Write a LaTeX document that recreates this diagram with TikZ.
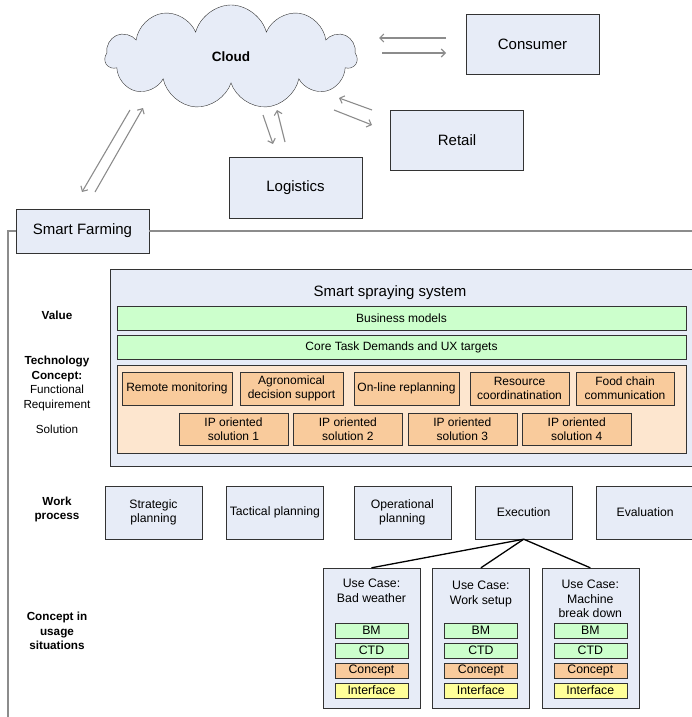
\documentclass[tikz,border=0pt]{standalone}
\usepackage{fontspec}
\setmainfont{Liberation Sans}
\usetikzlibrary{positioning,shapes.symbols,arrows.meta}

\definecolor{boxblue}{HTML}{E7ECF7}
\definecolor{boxline}{HTML}{333333}
\definecolor{valuegreen}{HTML}{CCFFCC}
\definecolor{panelpeach}{HTML}{FDE6CF}
\definecolor{funcorange}{HTML}{F9CB9C}
\definecolor{ifyellow}{HTML}{FFFF99}
\definecolor{flowgray}{HTML}{8C8C8C}

\tikzset{
	farmpicture/.style = {
		x = 1pt,
		y = 1pt,
		node distance = 5pt,
		flow/.style = {
			draw = flowgray,
			line width = 1.1pt,
			-{Straight Barb[length=4pt,width=8pt]},
		}
	},
	bigbox/.style = {
		draw = boxline,
		fill = boxblue,
		inner sep = 0pt,
		minimum width = 133pt,
		minimum height = 60pt,
		font = \fontsize{15}{17}\selectfont
	},
	greenbar/.style = {
		draw = boxline,
		fill = valuegreen,
		inner sep = 0pt,
		minimum width = 569pt,
		minimum height = 24pt,
		font = \fontsize{12}{14}\selectfont
	},
	funcbox/.style = {
		draw = boxline,
		fill = funcorange,
		inner sep = 0pt,
		align = center,
		minimum height = 33pt,
		font = \fontsize{12}{14}\selectfont
	},
	wpbox/.style = {
		draw = boxline,
		fill = boxblue,
		inner sep = 0pt,
		align = center,
		minimum width = 97pt,
		minimum height = 53pt,
		font = \fontsize{12.2}{14.5}\selectfont
	},
	ucbox/.style = {
		draw = boxline,
		fill = boxblue,
		minimum width = 97pt,
		minimum height = 140pt
	},
	uctitle/.style = {
		align = center,
		inner sep = 0pt,
		font = \fontsize{12.3}{14.5}\selectfont
	},
	smallbox/.style = {
		draw = boxline,
		inner sep = 0pt,
		minimum width = 73pt,
		minimum height = 15pt,
		font = \fontsize{12.3}{14}\selectfont
	},
	rowlabel/.style = {
		align = center,
		inner sep = 0pt,
		font = \bfseries\fontsize{11.7}{14.5}\selectfont
	},
	frame/.style = {
		draw = flowgray,
		line width = 1.4pt
	},
	tree/.style = {
		draw = black,
		line width = 1.3pt
	}
}

\begin{document}
\begin{tikzpicture}[farmpicture]
	\useasboundingbox (0,0) rectangle (692,-717);

	% outside world
	\node[cloud, cloud puffs = 11, aspect = 2.4, draw = boxline, fill = boxblue,
		inner sep = 0pt, minimum width = 252pt, minimum height = 104pt,
		font = \bfseries\fontsize{13.5}{16}\selectfont] (cloud) at (231,-57) {Cloud};
	\node[bigbox] (consumer) at (532.5,-44) {Consumer};
	\node[bigbox] (retail) at (457,-140) {Retail};
	\node[bigbox, minimum height = 61pt] (logistics) at (295.5,-187.5) {Logistics};
	\node[bigbox, minimum height = 44pt] (farming) at (82.5,-231) {Smart Farming};

	\coordinate (cf-a1) at (130,-110);
	\coordinate (cf-a2) at (82,-192);
	\coordinate (cf-b1) at (95,-192);
	\coordinate (cf-b2) at (143,-108);
	\coordinate (cl-a1) at (263,-115);
	\coordinate (cl-a2) at (273,-144);
	\coordinate (cl-b1) at (285,-142);
	\coordinate (cl-b2) at (277,-110);
	\coordinate (cr-a1) at (372,-110);
	\coordinate (cr-a2) at (339,-98);
	\coordinate (cr-b1) at (334,-110);
	\coordinate (cr-b2) at (372,-125);
	\coordinate (cc-a1) at (446,-38);
	\coordinate (cc-a2) at (379,-38);
	\coordinate (cc-b1) at (382,-53);
	\coordinate (cc-b2) at (446,-53);

	\begin{scope}[every path/.style = flow]
		\path (cf-a1) -- (cf-a2);
		\path (cf-b1) -- (cf-b2);
		\path (cl-a1) -- (cl-a2);
		\path (cl-b1) -- (cl-b2);
		\path (cr-a1) -- (cr-a2);
		\path (cr-b1) -- (cr-b2);
		\path (cc-a1) -- (cc-a2);
		\path (cc-b1) -- (cc-b2);
	\end{scope}

	% smart farming frame
	\coordinate (frameright) at (692,-231);
	\coordinate (framecorner) at (8,-231);
	\coordinate (framebottom) at (8,-717);
	\draw[frame] (farming.east) -- (frameright);
	\draw[frame] (farming.west) -- (framecorner) -- (framebottom);

	% row labels
	\node[rowlabel] (value) at (57,-315) {Value};
	\node[rowlabel] (techconcept) at (57,-383.5) {Technology\\Concept:\\
		\mdseries Functional\\\mdseries Requirement};
	\node[rowlabel, font = \fontsize{11.7}{14}\selectfont] (solution) at (57,-429) {Solution};
	\node[rowlabel] (workprocess) at (57,-509.5) {Work\\process};
	\node[rowlabel] (usage) at (57,-631) {Concept in\\usage\\situations};

	% smart spraying system
	\node[draw = boxline, fill = boxblue, minimum width = 582pt, minimum height = 197pt,
		inner sep = 0pt] (spraying) at (401,-367.5) {};
	\node[font = \fontsize{15}{17}\selectfont] (title) at (390,-293) {Smart spraying system};
	\node[greenbar] (business) at (401.5,-318) {Business models};
	\node[greenbar] (coretask) at (401.5,-347) {Core Task Demands and UX targets};
	\node[draw = boxline, fill = panelpeach, minimum width = 569pt, minimum height = 88pt,
		inner sep = 0pt] (panel) at (401.5,-409) {};

	\node[funcbox, minimum width = 110pt] (remote) at (177,-388.5) {Remote monitoring};
	\node[funcbox, minimum width = 103pt] (agronomical) at (291.5,-388.5) {Agronomical\\decision support};
	\node[funcbox, minimum width = 105pt] (replanning) at (406.5,-388.5) {On-line replanning};
	\node[funcbox, minimum width = 99pt] (resource) at (519.5,-388.5) {Resource\\coordinatination};
	\node[funcbox, minimum width = 98pt] (foodchain) at (625,-388.5) {Food chain\\communication};

	\node[funcbox, minimum width = 109pt, minimum height = 32pt] (ip1) at (233.5,-429) {IP oriented\\solution 1};
	\node[funcbox, minimum width = 109pt, minimum height = 32pt, right = of ip1] (ip2) {IP oriented\\solution 2};
	\node[funcbox, minimum width = 109pt, minimum height = 32pt, right = of ip2] (ip3) {IP oriented\\solution 3};
	\node[funcbox, minimum width = 109pt, minimum height = 32pt, right = of ip3] (ip4) {IP oriented\\solution 4};

	% work process
	\node[wpbox] (strategic) at (153.5,-512.5) {Strategic\\planning};
	\node[wpbox, right = 24pt of strategic] (tactical) {Tactical planning};
	\node[wpbox, right = 30pt of tactical] (operational) {Operational\\planning};
	\node[wpbox, right = 24pt of operational] (execution) {Execution};
	\node[wpbox, right = 24pt of execution] (evaluation) {Evaluation};

	% usage situations
	\node[ucbox] (weather) at (371.5,-638) {};
	\node[ucbox, right = 12pt of weather] (setup) {};
	\node[ucbox, right = 12pt of setup] (breakdown) {};

	\node[uctitle, below = 11pt of weather.north] (weathertitle) {Use Case:\\Bad weather};
	\node[uctitle, below = 13pt of setup.north] (setuptitle) {Use Case:\\Work setup};
	\node[uctitle, below = 12pt of breakdown.north] (breakdowntitle) {Use Case:\\Machine\\break down};

	\node[smallbox, fill = valuegreen, below = 55pt of weather.north] (weatherbm) {BM};
	\node[smallbox, fill = valuegreen, below = 4.5pt of weatherbm] (weatherctd) {CTD};
	\node[smallbox, fill = funcorange, below = 4.5pt of weatherctd] (weatherconcept) {Concept};
	\node[smallbox, fill = ifyellow, below = 4.5pt of weatherconcept] (weatherif) {Interface};

	\node[smallbox, fill = valuegreen, below = 55pt of setup.north] (setupbm) {BM};
	\node[smallbox, fill = valuegreen, below = 4.5pt of setupbm] (setupctd) {CTD};
	\node[smallbox, fill = funcorange, below = 4.5pt of setupctd] (setupconcept) {Concept};
	\node[smallbox, fill = ifyellow, below = 4.5pt of setupconcept] (setupif) {Interface};

	\node[smallbox, fill = valuegreen, below = 55pt of breakdown.north] (breakdownbm) {BM};
	\node[smallbox, fill = valuegreen, below = 4.5pt of breakdownbm] (breakdownctd) {CTD};
	\node[smallbox, fill = funcorange, below = 4.5pt of breakdownctd] (breakdownconcept) {Concept};
	\node[smallbox, fill = ifyellow, below = 4.5pt of breakdownconcept] (breakdownif) {Interface};

	\draw[tree] (execution.south) -- (weather.north);
	\draw[tree] (execution.south) -- (setup.north);
	\draw[tree] (execution.south) -- (breakdown.north);
\end{tikzpicture}
\end{document}
